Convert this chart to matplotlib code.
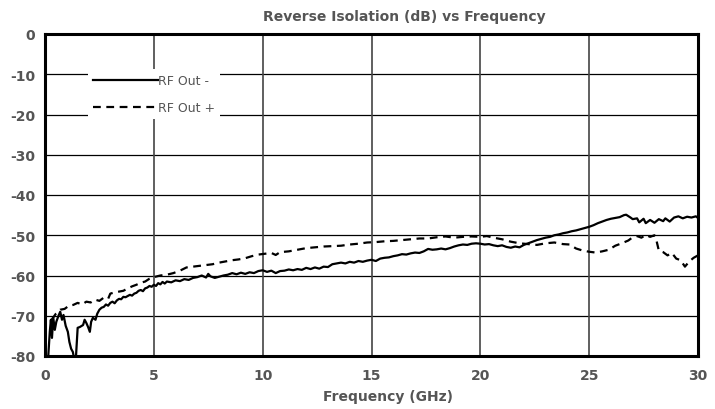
import matplotlib
matplotlib.use("Agg")
import matplotlib.pyplot as plt
import numpy as np

plt.rcParams["axes.unicode_minus"] = False

# RF Out - (solid)
freq_minus = [0.05, 0.15, 0.22, 0.27, 0.32, 0.38, 0.45, 0.52, 0.62, 0.7, 0.78, 0.85, 0.95, 1.05, 1.12, 1.2,
              1.28, 1.35, 1.42, 1.5, 1.6, 1.75, 1.82, 1.9, 1.98, 2.06, 2.12, 2.2, 2.32, 2.4, 2.5, 2.6, 2.7,
              2.8, 2.9, 3.0, 3.1, 3.2, 3.3, 3.4, 3.5, 3.6, 3.7, 3.8, 3.9, 4.0, 4.1, 4.2, 4.3, 4.4, 4.5, 4.6,
              4.7, 4.8, 4.9, 5.0, 5.1, 5.2, 5.3, 5.4, 5.5, 5.6, 5.8, 6.0, 6.2, 6.4, 6.6, 6.8, 7.0, 7.2, 7.4,
              7.5, 7.6, 7.8, 8.0, 8.2, 8.4, 8.6, 8.8, 9.0, 9.2, 9.4, 9.6, 9.8, 10.0, 10.2, 10.4, 10.6, 10.8,
              11.0, 11.2, 11.4, 11.6, 11.8, 12.0, 12.2, 12.4, 12.6, 12.8, 13.0, 13.2, 13.4, 13.6, 13.8, 14.0,
              14.2, 14.4, 14.6, 14.8, 15.0, 15.2, 15.4, 15.6, 15.8, 16.0, 16.2, 16.4, 16.6, 16.8, 17.0, 17.2,
              17.4, 17.6, 17.8, 18.0, 18.2, 18.4, 18.6, 18.8, 19.0, 19.2, 19.4, 19.6, 19.8, 20.0, 20.2, 20.4,
              20.6, 20.8, 21.0, 21.2, 21.4, 21.6, 21.8, 22.0, 22.2, 22.4, 22.6, 22.8, 23.0, 23.2, 23.4, 23.6,
              23.8, 24.0, 24.2, 24.4, 24.6, 24.8, 25.0, 25.2, 25.4, 25.6, 25.8, 26.0, 26.2, 26.4, 26.6, 26.7,
              26.9, 27.0, 27.2, 27.3, 27.5, 27.6, 27.8, 28.0, 28.2, 28.4, 28.5, 28.7, 28.9, 29.1, 29.3, 29.5,
              29.7, 29.9, 30.0]
iso_minus = [-82, -80, -74, -71, -75.5, -70.5, -73.5, -71.5, -70, -69, -71, -69.8, -72.5, -74, -76.5, -78.2,
             -79, -81, -80.5, -73, -72.8, -72.3, -71, -71.8, -72.8, -74, -71.5, -70.5, -71, -69.5, -68.5, -68,
             -67.8, -67.2, -67.5, -66.8, -66.5, -66.9, -66.2, -65.8, -65.9, -65.3, -65.4, -65.1, -64.8, -65.0,
             -64.5, -64.3, -63.8, -63.6, -63.9, -63.2, -63.0, -62.6, -62.8, -62.3, -62.6, -61.9, -62.2, -61.6,
             -62.0, -61.5, -61.7, -61.2, -61.4, -60.9, -61.1, -60.6, -60.4, -60.0, -60.5, -59.6, -60.2, -60.6,
             -60.3, -60.0, -59.8, -59.4, -59.7, -59.3, -59.6, -59.2, -59.4, -58.9, -58.7, -59.1, -58.8, -59.4,
             -58.9, -58.8, -58.5, -58.7, -58.4, -58.6, -58.1, -58.4, -58.0, -58.3, -57.8, -57.9, -57.2, -57.0,
             -56.8, -57.0, -56.6, -56.8, -56.4, -56.6, -56.3, -56.1, -56.4, -55.8, -55.6, -55.5, -55.2, -55.0,
             -54.7, -54.8, -54.5, -54.3, -54.4, -54.0, -53.4, -53.6, -53.5, -53.3, -53.5, -53.2, -52.8, -52.5,
             -52.3, -52.4, -52.1, -52.0, -52.1, -52.3, -52.2, -52.5, -52.7, -52.5, -52.9, -53.1, -52.8, -53.0,
             -52.4, -52.0, -51.6, -51.2, -50.9, -50.6, -50.4, -50.0, -49.8, -49.5, -49.3, -49.0, -48.8, -48.5,
             -48.2, -47.9, -47.5, -47.0, -46.6, -46.2, -45.9, -45.7, -45.5, -45.0, -44.9, -45.6, -46.0, -45.8,
             -46.8, -45.9, -47.0, -46.2, -46.9, -46.0, -46.5, -45.8, -46.6, -45.6, -45.3, -45.8, -45.4, -45.6,
             -45.3, -45.7]

# RF Out + (dashed)
freq_plus = [0.3, 0.5, 0.7, 0.9, 1.1, 1.3, 1.5, 1.7, 1.9, 2.1, 2.3, 2.5, 2.7, 2.9, 3.0, 3.2, 3.4, 3.6, 3.8,
             4.0, 4.2, 4.4, 4.6, 4.8, 5.0, 5.3, 5.6, 5.9, 6.2, 6.5, 6.8, 7.1, 7.4, 7.7, 8.0, 8.3, 8.6, 8.9,
             9.2, 9.5, 9.8, 10.1, 10.4, 10.6, 10.8, 11.2, 11.6, 12.0, 12.4, 12.8, 13.2, 13.6, 14.0, 14.4,
             14.8, 15.2, 15.6, 16.0, 16.4, 16.8, 17.2, 17.6, 18.0, 18.4, 18.8, 19.2, 19.6, 20.0, 20.3, 20.6,
             21.0, 21.4, 21.8, 22.2, 22.6, 23.0, 23.4, 23.8, 24.1, 24.4, 24.7, 25.0, 25.3, 25.6, 25.9, 26.2,
             26.5, 26.8, 27.0, 27.2, 27.4, 27.6, 27.8, 28.0, 28.1, 28.2, 28.4, 28.6, 28.8, 29.0, 29.2, 29.4,
             29.6, 29.8, 30.0]
iso_plus = [-71, -69.5, -68.5, -68.3, -67.5, -67.3, -66.8, -67.2, -66.5, -66.7, -66.0, -66.3, -65.5, -65.8,
            -64.5, -64.2, -64.0, -63.8, -63.2, -62.7, -62.3, -61.8, -61.5, -60.8, -60.4, -60.0, -59.8, -59.4,
            -58.8, -58.0, -57.8, -57.6, -57.4, -57.2, -56.8, -56.5, -56.2, -56.0, -55.7, -55.2, -54.8, -54.6,
            -54.4, -54.9, -54.2, -54.0, -53.6, -53.2, -53.0, -52.8, -52.7, -52.6, -52.3, -52.1, -51.8, -51.7,
            -51.5, -51.4, -51.2, -51.0, -50.8, -50.8, -50.5, -50.3, -50.6, -50.4, -50.3, -50.4, -50.2, -50.6,
            -51.0, -51.6, -52.0, -52.2, -52.4, -52.0, -51.8, -52.2, -52.3, -53.3, -53.8, -54.1, -54.3, -54.0,
            -53.6, -52.6, -52.0, -51.3, -50.5, -50.2, -50.6, -49.9, -50.4, -50.0, -51.5, -53.8, -54.2, -55.0,
            -54.4, -55.8, -56.2, -57.8, -56.5, -55.6, -55.0]

x_ticks = [0, 5, 10, 15, 20, 25, 30]
y_ticks = [-80, -70, -60, -50, -40, -30, -20, -10, 0]
series_labels = ["RF Out -", "RF Out +"]
title = "Reverse Isolation (dB) vs Frequency"
xlabel = "Frequency (GHz)"

gray = "#555555"
fig = plt.figure(figsize=(7.15, 4.10), dpi=100)
ax = fig.add_axes([45/715, 1-357/410, (698-45)/715, (357-35)/410])

for y in y_ticks:
    ax.axhline(y, color="black", lw=0.9, zorder=1)
for x in x_ticks:
    ax.axvline(x, color="#444444", lw=1.2, zorder=1)

ax.plot(freq_minus, iso_minus, color="black", lw=1.6, label=series_labels[0], zorder=3)
ax.plot(freq_plus, iso_plus, color="black", lw=1.6, ls=(0, (3.5, 2.5)), label=series_labels[1], zorder=3)

ax.set_xlim(0, 30)
ax.set_ylim(-80, 0)
ax.set_xticks(x_ticks)
ax.set_yticks(y_ticks)
ax.tick_params(length=0, labelsize=10, labelcolor=gray)
ax.tick_params(axis="x", pad=9)
ax.tick_params(axis="y", pad=7)
for lab in ax.get_xticklabels() + ax.get_yticklabels():
    lab.set_fontweight("bold")
for s in ax.spines.values():
    s.set_linewidth(2.2)
    s.set_color("black")
    s.set_zorder(4)

leg = ax.legend(loc="upper left", bbox_to_anchor=(0.066, 0.89), frameon=True, fontsize=9,
                handlelength=5.2, handletextpad=0.0, borderpad=0.4, labelspacing=1.1,
                borderaxespad=0)
leg.get_frame().set_edgecolor("none")
leg.get_frame().set_facecolor("white")
leg.get_frame().set_alpha(1)
leg.get_frame().set_boxstyle("square", pad=0)
for t in leg.get_texts():
    t.set_color(gray)

fig.text(404/715, 1-17/410, title, ha="center", va="center", fontsize=10, fontweight="bold", color=gray)
fig.text(388/715, 1-397/410, xlabel, ha="center", va="center", fontsize=10, fontweight="bold", color=gray)

fig.savefig("out.png", dpi=100)
